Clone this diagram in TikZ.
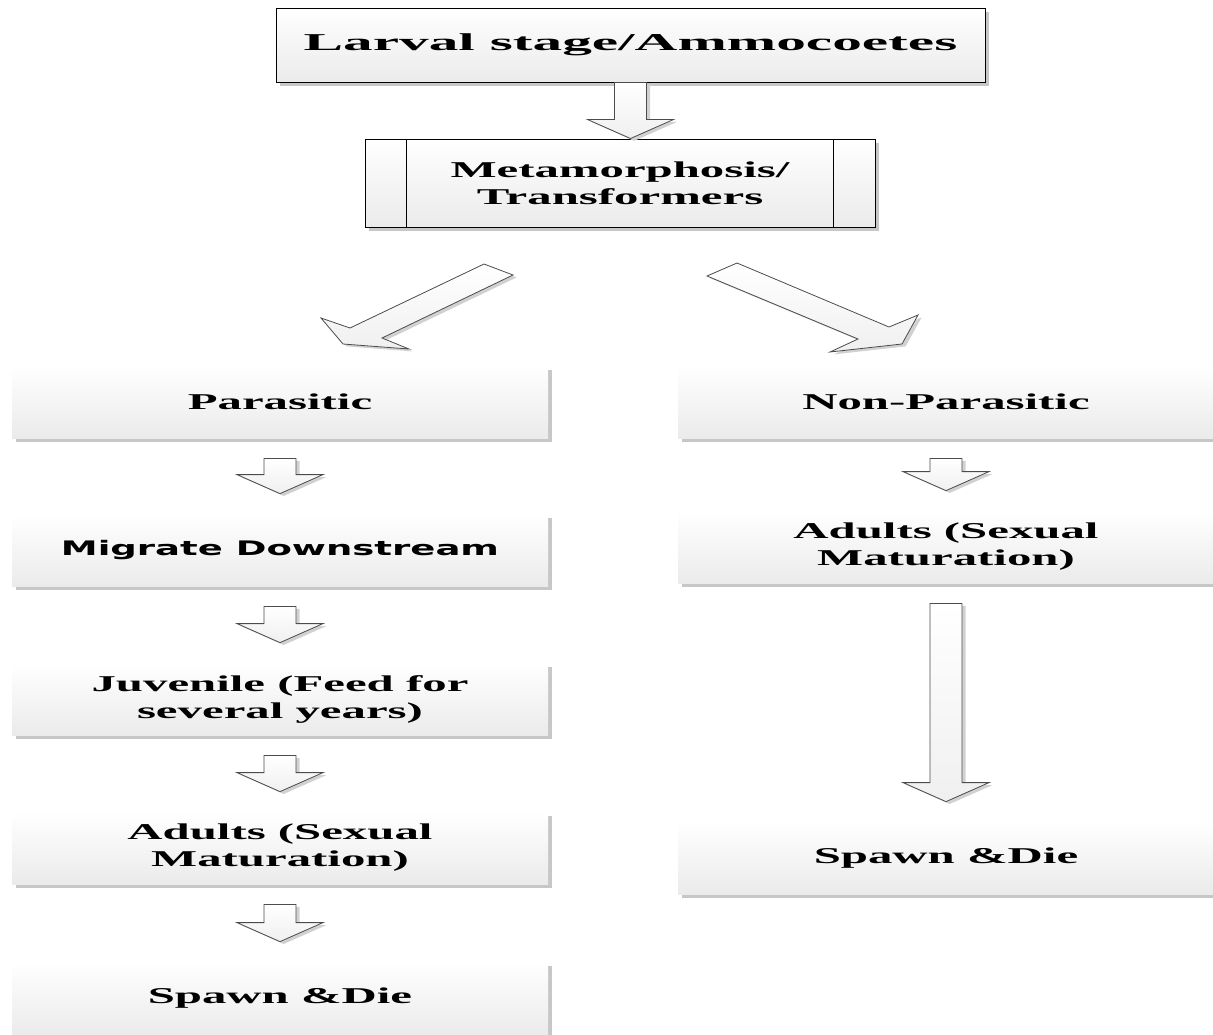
\documentclass[tikz,border=0pt]{standalone}
\usepackage{fontspec}
\usetikzlibrary{calc}
\usetikzlibrary{shadows}
\newfontfamily\stagefont[FakeStretch=2.16]{Liberation Serif}
\newfontfamily\titlefont[FakeStretch=2.45]{Liberation Serif}
\newfontfamily\widesans[FakeStretch=1.85]{DejaVu Sans}
\tikzset{
	boxshade/.style={top color=white, bottom color=black!8, drop shadow={shadow xshift=2pt, shadow yshift=-2pt, opacity=1, fill=black!22}},
	stage/.style={boxshade, inner sep=0pt, minimum width=268pt, minimum height=36pt, align=center, font=\stagefont\bfseries\fontsize{11.3}{13.5}\selectfont},
	barrow/.style={draw=black!70, line width=0.4pt, top color=white, bottom color=black!6, drop shadow={shadow xshift=1.8pt, shadow yshift=-1.2pt, opacity=1, fill=black!18}}
}
\newcommand{\downarr}[3] % from node, to node, gap in pt
{
	\path[barrow] let \p1=(#1.south), \p2=(#2.north) in
		(\x1-8pt,\y1-#3) -- (\x1+8pt,\y1-#3) -- (\x1+8pt,\y2+#3+9.5pt) -- (\x1+21.5pt,\y2+#3+9.5pt)
		-- (\x1,\y2+#3) -- (\x1-21.5pt,\y2+#3+9.5pt) -- (\x1-8pt,\y2+#3+9.5pt) -- cycle;
}

\begin{document}
\begin{tikzpicture}[x=0.5pt, y=-0.5pt]
	% page in pixels: 1213 x 1034
	\useasboundingbox (0,0) rectangle (1213,1034);
	
	\node[stage, draw=black, line width=0.5pt, minimum width=354.5pt, minimum height=37pt, font=\titlefont\bfseries\fontsize{12.1}{14}\selectfont] (larva) at (630.5,45) {Larval stage/Ammocoetes};
	\node[stage, draw=black, line width=0.5pt, minimum width=255pt, minimum height=44pt] (meta) at (620,183) {Metamorphosis/\\Transformers};
	\draw[line width=0.5pt] ($(meta.north west)+(21pt,0)$) -- ($(meta.south west)+(21pt,0)$);
	\draw[line width=0.5pt] ($(meta.north east)+(-21pt,0)$) -- ($(meta.south east)+(-21pt,0)$);
	
	% parasitic branch
	\node[stage] (par) at (280,402) {Parasitic};
	\node[stage, font=\widesans\bfseries\fontsize{10}{12}\selectfont] (mig) at (280,550) {Migrate Downstream};
	\node[stage] (juv) at (280,699) {Juvenile (Feed for\\several years)};
	\node[stage] (adl) at (280,848) {Adults (Sexual\\Maturation)};
	\node[stage] (spl) at (280,998) {Spawn \&Die};
	
	% non-parasitic branch
	\node[stage] (npar) at (946,402) {Non-Parasitic};
	\node[stage] (nad) at (946,547) {Adults (Sexual\\Maturation)};
	\node[stage] (nsp) at (946,858) {Spawn \&Die};
	
	\downarr{larva}{meta}{0pt};
	
	\path[barrow] (484,264) -- (513,275) -- (382,338) -- (409,349) -- (343,344) -- (321,318) -- (350,328) -- cycle;
	\path[barrow] (737,263) -- (889,327) -- (918,315) -- (902,344) -- (830,352) -- (858,339) -- (707,276) -- cycle;
	
	\downarr{par}{mig}{10pt};
	\downarr{mig}{juv}{10pt};
	\downarr{juv}{adl}{10pt};
	\downarr{adl}{spl}{10pt};
	
	\downarr{npar}{nad}{10pt};
	\downarr{nad}{nsp}{10pt};
\end{tikzpicture}
\end{document}
